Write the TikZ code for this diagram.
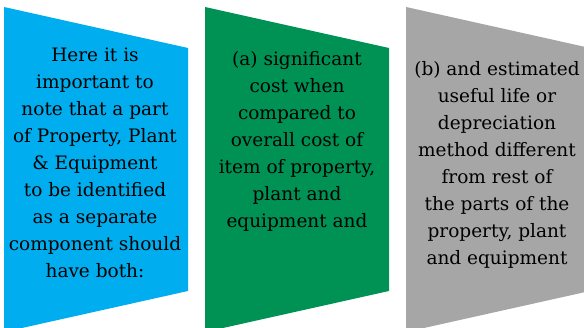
\documentclass[tikz,border=0pt]{standalone}
\usepackage{fontspec}
\setmainfont{DejaVu Serif}
\definecolor{panelblue}{RGB}{0,174,239}
\definecolor{panelgreen}{RGB}{0,146,84}
\definecolor{panelgray}{RGB}{166,166,166}
\tikzset{
  paneltext/.style={align=center, text=black, inner sep=0pt,
    font=\fontsize{18.5}{27}\selectfont}
}
\begin{document}
\begin{tikzpicture}[x=1pt,y=1pt]
  \useasboundingbox (0,0) rectangle (584,328);
  \clip (0,0) rectangle (584,328);
  % three slanted panels
  \fill[panelblue]  (4,321) -- (188,280) -- (188,37) -- (4,-4) -- cycle;
  \fill[panelgreen] (205,321) -- (389,280) -- (389,37) -- (205,-4) -- cycle;
  \fill[panelgray]  (406,321) -- (590,280) -- (590,37) -- (406,-4) -- cycle;
  % panel texts
  \node[paneltext] (intro) at (95,165) {Here it is\\important to\\note that a part\\of Property, Plant\\\& Equipment\\to be identified\\as a separate\\component should\\have both:};
  \node[paneltext] (cost) at (297,187) {(a) significant\\cost when\\compared to\\overall cost of\\item of property,\\plant and\\equipment and};
  \node[paneltext] (life) at (497,163) {(b) and estimated\\useful life or\\depreciation\\method different\\from rest of\\the parts of the\\property, plant\\and equipment};
\end{tikzpicture}
\end{document}
